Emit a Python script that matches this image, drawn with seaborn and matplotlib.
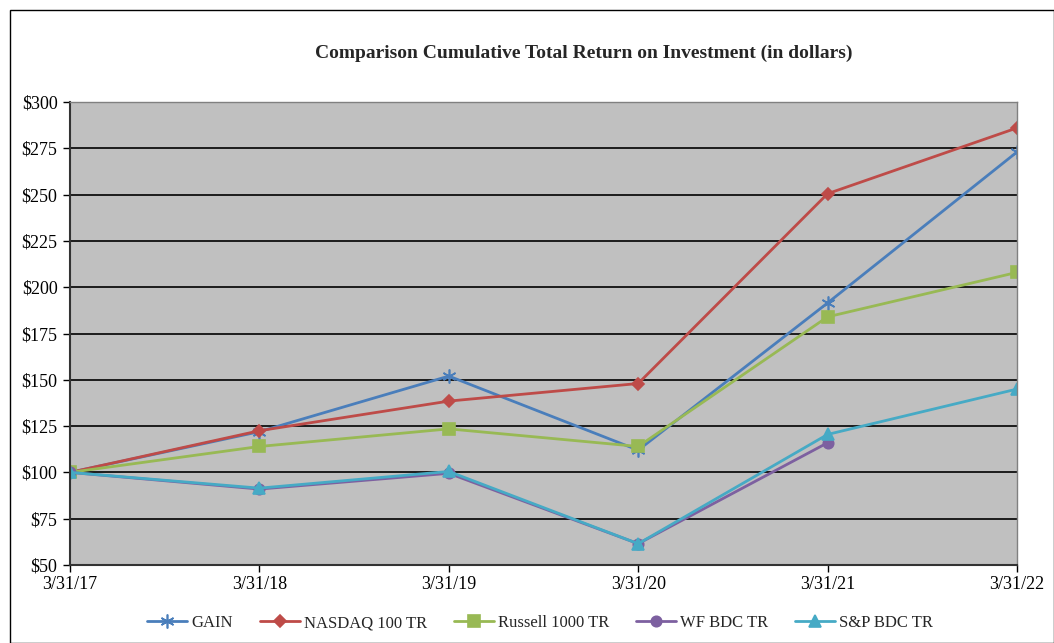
import matplotlib
matplotlib.use("Agg")
import matplotlib.pyplot as plt
import seaborn as sns
import pandas as pd
from matplotlib.patches import Rectangle

dates = ["3/31/17", "3/31/18", "3/31/19", "3/31/20", "3/31/21", "3/31/22"]
gain = [100, 122, 152, 112, 191.5, 273]
nasdaq = [100, 122.5, 138.5, 148, 250.5, 286]
russell = [100, 114, 123.5, 114, 184, 208]
wf_bdc = [100, 91, 99.5, 61.5, 116, None]
sp_bdc = [100, 91.5, 100.5, 61.5, 120.5, 145]

series = {
    "GAIN": gain,
    "NASDAQ 100 TR": nasdaq,
    "Russell 1000 TR": russell,
    "WF BDC TR": wf_bdc,
    "S&P BDC TR": sp_bdc,
}
colors = {
    "GAIN": "#4A7EBB",
    "NASDAQ 100 TR": "#BE4B48",
    "Russell 1000 TR": "#98B954",
    "WF BDC TR": "#7D60A0",
    "S&P BDC TR": "#46AAC5",
}
markers = {
    "GAIN": (6, 2, 0),
    "NASDAQ 100 TR": "D",
    "Russell 1000 TR": "s",
    "WF BDC TR": "o",
    "S&P BDC TR": "^",
}
msizes = {"GAIN": 10, "NASDAQ 100 TR": 6, "Russell 1000 TR": 8, "WF BDC TR": 7.5, "S&P BDC TR": 8}

sns.set_theme(style="white")
plt.rcParams['font.family'] = ['Liberation Serif', 'DejaVu Serif']

fig = plt.figure(figsize=(10.54, 6.43), dpi=100)
ax = fig.add_axes([70/1054, 1-565/643, (1017-70)/1054, (565-102)/643])
ax.set_facecolor("#C0C0C0")

for name, vals in series.items():
    df = pd.DataFrame({"x": list(range(len(dates))), "y": vals}).dropna()
    sns.lineplot(data=df, x="x", y="y", ax=ax, color=colors[name], linewidth=2.0,
                 marker=markers[name], markersize=msizes[name],
                 markeredgecolor=colors[name], markerfacecolor=colors[name],
                 markeredgewidth=1.2, label=name)

ax.set_xlim(0, len(dates) - 1)
ax.set_ylim(50, 300)
ax.set_yticks(range(50, 301, 25))
ax.set_yticklabels(["$" + str(v) for v in range(50, 301, 25)])
ax.set_xticks(range(len(dates)))
ax.set_xticklabels(dates)
ax.set_xlabel("")
ax.set_ylabel("")
ax.yaxis.grid(True, color="black", linewidth=1.2)
ax.set_axisbelow(True)
ax.tick_params(axis="both", labelsize=13, colors="black", direction="out", length=5, width=1, left=True, bottom=True)
ax.tick_params(axis="y", pad=4)
ax.tick_params(axis="x", pad=3)
for s in ["left", "bottom"]:
    ax.spines[s].set_color("#333333")
    ax.spines[s].set_linewidth(1.5)
for s in ["top", "right"]:
    ax.spines[s].set_color("#808080")
    ax.spines[s].set_linewidth(1)

fig.text(584/1054, 1-53/643, "Comparison Cumulative Total Return on Investment (in dollars)",
         ha="center", va="center", fontsize=14, fontweight="bold")

ax.legend(loc="center", bbox_to_anchor=(540/1054, 1-623/643), bbox_transform=fig.transFigure,
          ncol=5, frameon=False, fontsize=12, handlelength=2.4, columnspacing=1.6, handletextpad=0.25)

fig.patches.append(Rectangle((10/1054, 0), 1 - 10/1054 - 0.5/1054, 1 - 10/643, transform=fig.transFigure,
                             fill=False, edgecolor="black", linewidth=1))

fig.savefig("out.png", dpi=100)
